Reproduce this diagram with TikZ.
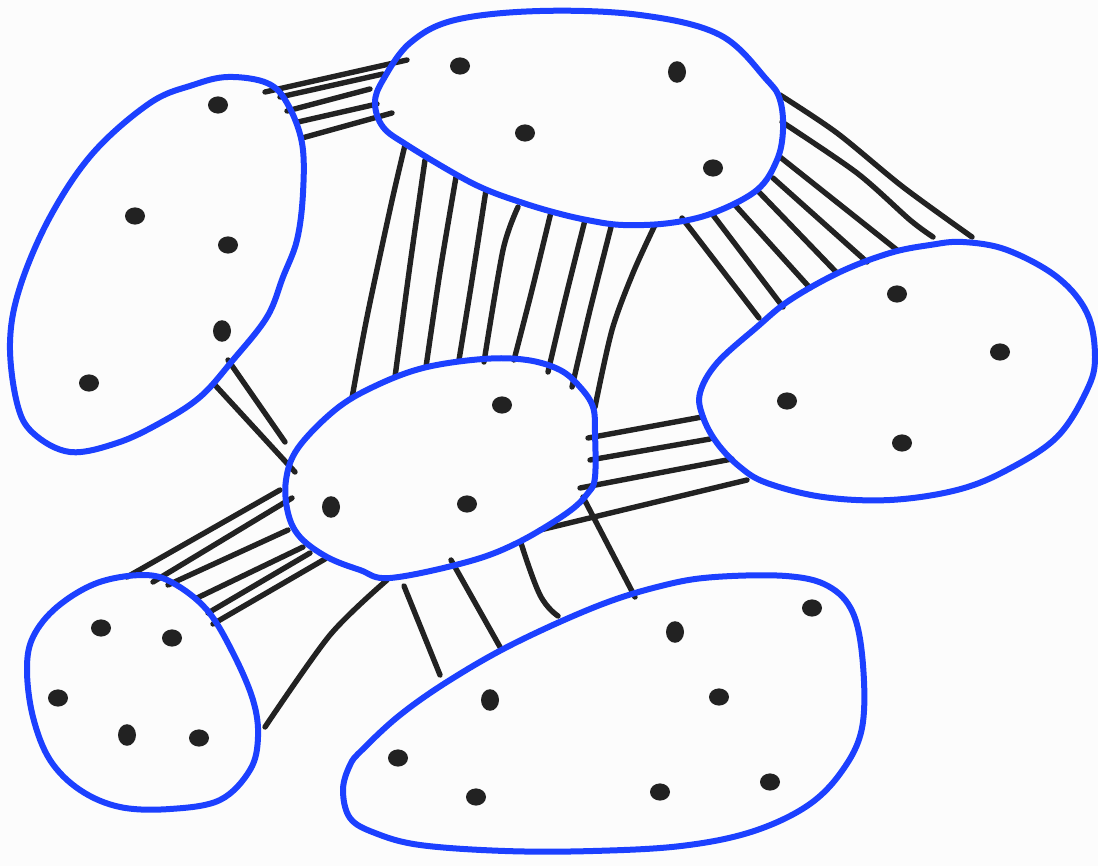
\documentclass[tikz,border=0pt]{standalone}
\definecolor{blobblue}{RGB}{28,64,255}
\definecolor{ink}{RGB}{34,34,34}
\definecolor{paper}{RGB}{252,252,252}
\begin{document}
\begin{tikzpicture}[x=0.5pt,y=-0.5pt,
  blob/.style={draw=blobblue,line width=3pt,line join=round},
  link/.style={draw=ink,line width=2.7pt,line cap=round},
  dot/.style={fill=ink}]
\fill[paper] (0,0) rectangle (1098,866);
\useasboundingbox (0,0) rectangle (1098,866);

% ---- connectors: blob1 - blob2
\draw[link] (265,92) -- (407,60);
\draw[link] (280,97) -- (383,74);
\draw[link] (287,111) -- (370,89);
\draw[link] (298,122) -- (377,104);
\draw[link] (302,138) -- (392,113);

% ---- blob2 - blob4
\draw[link] plot[smooth] coordinates {(405,145) (391,205) (367,317) (352,398)};
\draw[link] plot[smooth] coordinates {(425,160) (410,265) (395,377)};
\draw[link] plot[smooth] coordinates {(456,177) (440,272) (426,367)};
\draw[link] plot[smooth] coordinates {(486,190) (472,280) (459,360)};
\draw[link] plot[smooth] coordinates {(518,207) (503,250) (484,362)};
\draw[link] plot[smooth] coordinates {(551,212) (532,290) (514,360)};
\draw[link] plot[smooth] coordinates {(585,220) (565,300) (548,372)};
\draw[link] plot[smooth] coordinates {(611,227) (590,310) (572,387)};
\draw[link] plot[smooth] coordinates {(655,225) (633,273) (612,330) (595,407)};

% ---- blob2 - blob3
\draw[link] plot[smooth] coordinates {(780,95) (837,133) (903,187) (972,237)};
\draw[link] plot[smooth] coordinates {(782,122) (857,173) (910,220) (933,237)};
\draw[link] (780,157) -- (897,250);
\draw[link] (773,178) -- (867,262);
\draw[link] (757,190) -- (837,273);
\draw[link] (735,205) -- (810,288);
\draw[link] (713,215) -- (783,307);
\draw[link] (682,218) -- (759,318);

% ---- blob1 - blob4
\draw[link] (228,360) -- (285,442);
\draw[link] (215,385) -- (295,472);

% ---- blob4 - blob3
\draw[link] (588,438) -- (702,417);
\draw[link] (590,460) -- (710,439);
\draw[link] (580,488) -- (732,459);
\draw[link] (540,530) -- (747,480);

% ---- blob4 - blob5
\draw[link] (127,577) -- (280,490);
\draw[link] (153,582) -- (292,498);
\draw[link] (168,585) -- (288,530);
\draw[link] (197,598) -- (303,547);
\draw[link] (208,613) -- (310,553);
\draw[link] (213,624) -- (325,559);

% ---- blob4 - blob6, blob5
\draw[link] plot[smooth] coordinates {(387,580) (330,635) (265,727)};
\draw[link] (404,586) -- (440,675);
\draw[link] (451,560) -- (500,647);
\draw[link] plot[smooth,tension=0.7] coordinates {(521,543) (540,595) (558,616)};
\draw[link] (583,497) -- (635,597);

% ---- blobs
\draw[blob] plot[smooth cycle,tension=0.6] coordinates {
 (228,77) (267,83) (287,103) (302,143) (303,193) (297,240) (283,277) (267,317)
 (233,360) (200,397) (160,423) (117,443) (70,452) (33,433) (17,403) (10,343)
 (20,287) (50,217) (93,153) (150,103) (193,85)};
\draw[blob] plot[smooth cycle,tension=0.6] coordinates {
 (410,43) (455,20) (540,11) (640,15) (720,35) (767,80) (780,100) (783,130)
 (777,160) (757,190) (713,213) (670,223) (623,225) (587,220) (553,212)
 (520,202) (487,190) (457,175) (407,145) (383,127) (375,103) (383,80)};
\draw[blob] plot[smooth cycle,tension=0.6] coordinates {
 (930,245) (963,242) (1007,250) (1057,277) (1087,313) (1095,357) (1087,390)
 (1057,437) (1007,470) (957,490) (890,500) (823,497) (767,483) (740,467)
 (717,443) (703,417) (700,393) (717,363) (757,327) (790,300) (840,272) (890,253)};
\draw[blob] plot[smooth cycle,tension=0.6] coordinates {
 (335,410) (373,387) (423,368) (483,359) (527,360) (560,370) (580,387)
 (593,407) (595,433) (595,477) (588,493) (567,513) (517,543) (467,562)
 (390,578) (360,570) (327,557) (300,537) (288,513) (286,480) (298,448)};
\draw[blob] plot[smooth cycle,tension=0.6] coordinates {
 (143,575) (173,583) (207,610) (233,653) (253,700) (258,737) (250,770)
 (220,800) (170,809) (120,807) (80,790) (50,760) (33,717) (27,670)
 (33,637) (57,607) (97,583)};
\draw[blob] plot[smooth cycle,tension=0.6] coordinates {
 (786,576) (828,586) (853,613) (863,665) (862,728) (842,771) (807,806)
 (751,832) (681,846) (593,851) (505,851) (420,845) (375,833) (350,818)
 (343,790) (350,765) (362,750) (400,715) (450,680) (515,643) (600,605)
 (665,585) (715,577)};

% ---- dots
\foreach \p in {(218,105),(135,216),(228,245),(89,383),
  (460,66),(525,133),(713,168),
  (897,294),(1000,352),(787,401),(902,443),
  (502,405),(467,504),
  (101,628),(172,638),(58,698),(199,738),
  (812,608),(719,697),(398,758),(476,797),(660,792),(770,782)}
  \fill[ink] \p ellipse [x radius=5pt,y radius=4.3pt];
\foreach \p in {(222,331),(677,72),(331,507),(127,735),(675,632),(490,700)}
  \fill[ink] \p ellipse [x radius=4.5pt,y radius=5.4pt];
\end{tikzpicture}
\end{document}
